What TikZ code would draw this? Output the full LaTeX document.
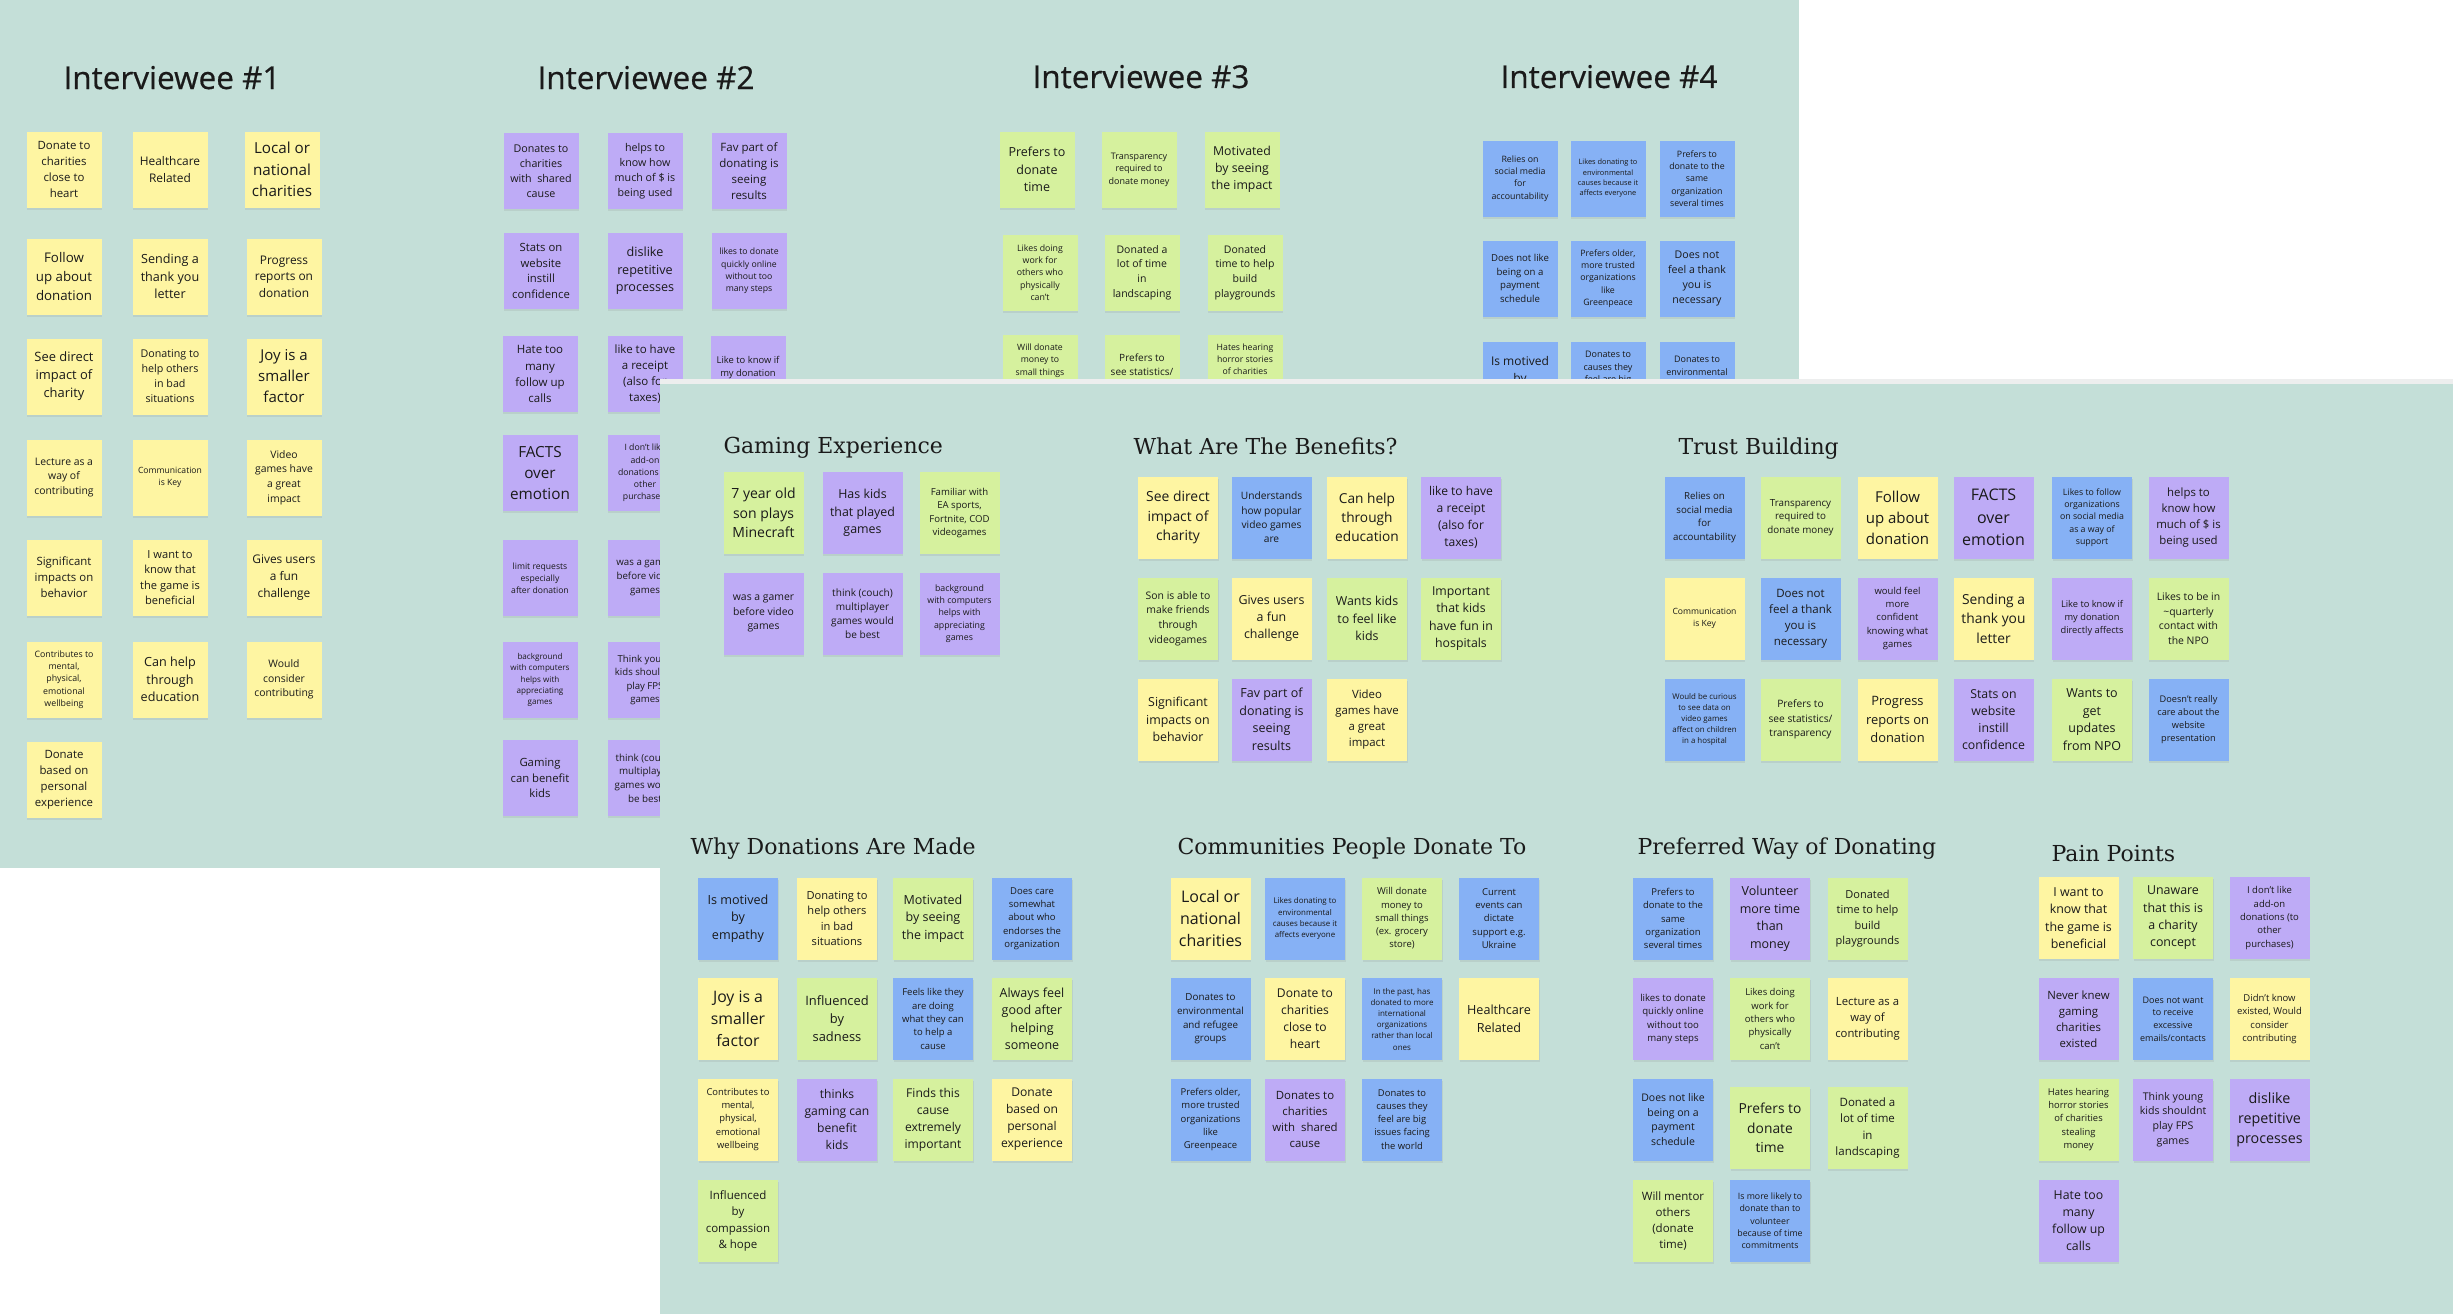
\documentclass[tikz,border=0pt]{standalone}
\usepackage{fontspec}
\setmainfont{Open Sans}
\newfontfamily\headfont[FakeBold=0.5]{Open Sans}
\newfontfamily\slabfont{DejaVu Serif}
\usetikzlibrary{shadows}

\definecolor{board}{HTML}{C4DFD8}
\definecolor{seam}{HTML}{EDEEEE}
\definecolor{ylw}{HTML}{FEF5A2}
\definecolor{grn}{HTML}{D6F19E}
\definecolor{vio}{HTML}{BEABF6}
\definecolor{blu}{HTML}{86B1F5}
\definecolor{ink}{HTML}{1A1A1A}

\newcommand{\fs}[1]{\fontsize{#1}{\fpeval{1.4*#1}}\selectfont}

\tikzset{
    note/.style={inner sep=0pt, align=center, text=ink,
        drop shadow={shadow xshift=0.6pt, shadow yshift=-2.2pt, opacity=0.18, fill=black!45}},
    small note/.style={note, minimum width=75, minimum height=76},
    big note/.style={note, minimum width=80, minimum height=82},
    board title/.style={anchor=base west, text=ink, font=\headfont\fontsize{31.5}{38}\selectfont},
    group title/.style={anchor=base west, text=ink, font=\slabfont\fontsize{22}{26}\selectfont},
}

\begin{document}
\begin{tikzpicture}[x=1pt, y=-1pt]
        \useasboundingbox (0,0) rectangle (2453,1314);
        \fill[white] (0,0) rectangle (2453,1314);
        \fill[board] (0,0) rectangle (1799,868);

        \node[board title] (int1) at (60,89) {Interviewee \#1};
        \node[board title] (int2) at (534,89) {Interviewee \#2};
        \node[board title] (int3) at (1029,88) {Interviewee \#3};
        \node[board title] (int4) at (1497,88) {Interviewee \#4};

        \foreach \x/\y/\c/\s/\t [count=\k] in {
            64/169.5/ylw/11.4/{Donate to\\charities\\close to\\heart},
            170/169.5/ylw/11.9/{Healthcare\\Related},
            282/169.5/ylw/15.2/{Local or\\national\\charities},
            64/276.5/ylw/13.3/{Follow\\up about\\donation},
            170/276.5/ylw/12.6/{Sending a\\thank you\\letter},
            284/276.5/ylw/11.9/{Progress\\reports on\\donation},
            64/376.5/ylw/12.9/{See direct\\impact of\\charity},
            170/376.5/ylw/10.7/{Donating to\\help others\\in bad\\situations},
            284/376.5/ylw/15/{Joy is a\\smaller\\factor},
            64/477.5/ylw/10.4/{Lecture as a\\way of\\contributing},
            170/477.5/ylw/8.6/{Communication\\is Key},
            284/477.5/ylw/10.4/{Video\\games have\\a great\\impact},
            64/577.5/ylw/11.4/{Significant\\impacts on\\behavior},
            170/577.5/ylw/11.1/{I want to\\know that\\the game is\\beneficial},
            284/577.5/ylw/11.9/{Gives users\\a fun\\challenge},
            64/679.5/ylw/8.8/{Contributes to\\mental,\\physical,\\emotional\\wellbeing},
            170/679.5/ylw/12.6/{Can help\\through\\education},
            284/679.5/ylw/10.4/{Would\\consider\\contributing},
            64/779.5/ylw/11.4/{Donate\\based on\\personal\\experience}}
            \node[small note, fill=\c, font=\fs{\s}] (i1-\k) at (\x,\y) {\t};

        \foreach \x/\y/\c/\s/\t [count=\k] in {
            541/171/vio/10.7/{Donates to\\charities\\with\ \ shared\\cause},
            645/171/vio/10.7/{helps to\\know how\\much of \$ is\\being used},
            749/171/vio/11.5/{Fav part of\\donating is\\seeing\\results},
            541/271/vio/11.3/{Stats on\\website\\instill\\confidence},
            645/271/vio/12.6/{dislike\\repetitive\\processes},
            749/271/vio/8.7/{likes to donate\\quickly online\\without too\\many steps},
            540/374/vio/11.5/{Hate too\\many\\follow up\\calls},
            645/374/vio/11.5/{like to have\\a receipt\\(also for\\taxes)},
            748/374/vio/9.4/{Like to know if\\my donation\\directly affects},
            540/473/vio/15.3/{FACTS\\over\\emotion},
            645/473/vio/8.7/{I don't like\\add-on\\donations (to\\other\\purchases)},
            540/578/vio/8.6/{limit requests\\especially\\after donation},
            645/578/vio/9.7/{was a gamer\\before video\\games},
            540/680/vio/8.1/{background\\with computers\\helps with\\appreciating\\games},
            645/680/vio/9.6/{Think young\\kids shouldnt\\play FPS\\games},
            540/778/vio/11.3/{Gaming\\can benefit\\kids},
            645/778/vio/9.8/{think (couch)\\multiplayer\\games would\\be best}}
            \node[small note, fill=\c, font=\fs{\s}] (i2-\k) at (\x,\y) {\t};

        \foreach \x/\y/\c/\s/\t [count=\k] in {
            1037/169.5/grn/12.5/{Prefers to\\donate\\time},
            1139/169.5/grn/9/{Transparency\\required to\\donate money},
            1242/169.5/grn/12.3/{Motivated\\by seeing\\the impact},
            1040/272.5/grn/8.8/{Likes doing\\work for\\others who\\physically\\can't},
            1142/272.5/grn/10.5/{Donated a\\lot of time\\in\\landscaping},
            1245/272.5/grn/10.5/{Donated\\time to help\\build\\playgrounds},
            1040/372.5/grn/8.7/{Will donate\\money to\\small things\\(ex. grocery\\store)},
            1142/372.5/grn/10/{Prefers to\\see statistics/\\transparency},
            1245/372.5/grn/8.7/{Hates hearing\\horror stories\\of charities\\stealing\\money}}
            \node[small note, fill=\c, font=\fs{\s}] (i3-\k) at (\x,\y) {\t};

        \foreach \x/\y/\c/\s/\t [count=\k] in {
            1520/178.5/blu/8.8/{Relies on\\social media\\for\\accountability},
            1608/178.5/blu/7.4/{Likes donating to\\environmental\\causes because it\\affects everyone},
            1697/178.5/blu/8.8/{Prefers to\\donate to the\\same\\organization\\several times},
            1520/278.5/blu/9.6/{Does not like\\being on a\\payment\\schedule},
            1608/278.5/blu/8.8/{Prefers older,\\more trusted\\organizations\\like\\Greenpeace},
            1697/278.5/blu/10.6/{Does not\\feel a thank\\you is\\necessary},
            1520/379.5/blu/12/{Is motived\\by\\empathy},
            1608/379.5/blu/9/{Donates to\\causes they\\feel are big\\issues facing\\the world},
            1697/379.5/blu/9/{Donates to\\environmental\\and refugee\\groups}}
            \node[small note, fill=\c, font=\fs{\s}] (i4-\k) at (\x,\y) {\t};

        \fill[seam] (660,379) rectangle (2453,384);
        \fill[board] (660,384) rectangle (2453,1314);

        \node[group title] (gaming) at (720,453) {Gaming Experience};
        \node[group title] (benefits) at (1130,454) {What Are The Benefits?};
        \node[group title] (trust) at (1675,454) {Trust Building};
        \node[group title] (why) at (687,854) {Why Donations Are Made};
        \node[group title] (communities) at (1174,854) {Communities People Donate To};
        \node[group title] (preferred) at (1634,854) {Preferred Way of Donating};
        \node[group title] (pain) at (2048,861) {Pain Points};

        \foreach \x/\y/\c/\s/\t [count=\k] in {
            763.5/513/grn/14/{7 year old\\son plays\\Minecraft},
            862.5/513/vio/12.4/{Has kids\\that played\\games},
            959.5/513/grn/9.6/{Familiar with\\EA sports,\\Fortnite, COD\\videogames},
            763.5/613.5/vio/10.4/{was a gamer\\before video\\games},
            862.5/613.5/vio/10.1/{think (couch)\\multiplayer\\games would\\be best},
            959.5/613.5/vio/8.8/{background\\with computers\\helps with\\appreciating\\games}}
            \node[big note, fill=\c, font=\fs{\s}] (gam-\k) at (\x,\y) {\t};

        \foreach \x/\y/\c/\s/\t [count=\k] in {
            1178/517.5/ylw/13.9/{See direct\\impact of\\charity},
            1271.5/517.5/blu/10.2/{Understands\\how popular\\video games\\are},
            1367/517.5/ylw/13.7/{Can help\\through\\education},
            1461/517.5/vio/12.1/{like to have\\a receipt\\(also for\\taxes)},
            1178/618.5/grn/10.4/{Son is able to\\make friends\\through\\videogames},
            1271.5/618.5/ylw/12.4/{Gives users\\a fun\\challenge},
            1367/618.5/grn/12.4/{Wants kids\\to feel like\\kids},
            1461/618.5/grn/12.3/{Important\\that kids\\have fun in\\hospitals},
            1178/719.5/ylw/12.4/{Significant\\impacts on\\behavior},
            1271.5/719.5/vio/12.5/{Fav part of\\donating is\\seeing\\results},
            1367/719.5/ylw/11.4/{Video\\games have\\a great\\impact}}
            \node[big note, fill=\c, font=\fs{\s}] (ben-\k) at (\x,\y) {\t};

        \foreach \x/\y/\c/\s/\t [count=\k] in {
            1704.5/517.5/blu/9.7/{Relies on\\social media\\for\\accountability},
            1800.5/517.5/grn/9.8/{Transparency\\required to\\donate money},
            1897.5/517.5/ylw/15/{Follow\\up about\\donation},
            1993.5/517.5/vio/16/{FACTS\\over\\emotion},
            2092/517.5/blu/8.8/{Likes to follow\\organizations\\on social media\\as a way of\\support},
            2188.5/517.5/vio/11.4/{helps to\\know how\\much of \$ is\\being used},
            1704.5/618.5/ylw/8.6/{Communication\\is Key},
            1800.5/618.5/blu/11.5/{Does not\\feel a thank\\you is\\necessary},
            1897.5/618.5/vio/9.5/{would feel\\more\\confident\\knowing what\\games},
            1993.5/618.5/ylw/13.8/{Sending a\\thank you\\letter},
            2092/618.5/vio/9.3/{Like to know if\\my donation\\directly affects},
            2188.5/618.5/grn/10.4/{Likes to be in\\\textasciitilde quarterly\\contact with\\the NPO},
            1704.5/719.5/blu/7.9/{Would be curious\\to see data on\\video games\\affect on children\\in a hospital},
            1800.5/719.5/grn/10.2/{Prefers to\\see statistics/\\transparency},
            1897.5/719.5/ylw/12.9/{Progress\\reports on\\donation},
            1993.5/719.5/vio/12.3/{Stats on\\website\\instill\\confidence},
            2092/719.5/grn/12.5/{Wants to\\get\\updates\\from NPO},
            2188.5/719.5/blu/9.2/{Doesn't really\\care about the\\website\\presentation}}
            \node[big note, fill=\c, font=\fs{\s}] (tru-\k) at (\x,\y) {\t};

        \foreach \x/\y/\c/\s/\t [count=\k] in {
            738/918.5/blu/12.6/{Is motived\\by\\empathy},
            837/918.5/ylw/11.1/{Donating to\\help others\\in bad\\situations},
            933/918.5/grn/12.5/{Motivated\\by seeing\\the impact},
            1032/918.5/blu/9.5/{Does care\\somewhat\\about who\\endorses the\\organization},
            738/1019/ylw/15.8/{Joy is a\\smaller\\factor},
            837/1019/grn/12.9/{Influenced\\by\\sadness},
            933/1019/blu/9.5/{Feels like they\\are doing\\what they can\\to help a\\cause},
            1032/1019/grn/12.5/{Always feel\\good after\\helping\\someone},
            738/1119.5/ylw/9.4/{Contributes to\\mental,\\physical,\\emotional\\wellbeing},
            837/1119.5/vio/12.1/{thinks\\gaming can\\benefit\\kids},
            933/1119.5/grn/12.1/{Finds this\\cause\\extremely\\important},
            1032/1119.5/ylw/12.1/{Donate\\based on\\personal\\experience},
            738/1221/grn/11.5/{Influenced\\by\\compassion\\\& hope}}
            \node[big note, fill=\c, font=\fs{\s}] (why-\k) at (\x,\y) {\t};

        \foreach \x/\y/\c/\s/\t [count=\k] in {
            1210.5/918.5/ylw/16/{Local or\\national\\charities},
            1305/918.5/blu/7.9/{Likes donating to\\environmental\\causes because it\\affects everyone},
            1402/918.5/grn/9.5/{Will donate\\money to\\small things\\(ex. grocery\\store)},
            1499/918.5/blu/9.5/{Current\\events can\\dictate\\support e.g.\\Ukraine},
            1210.5/1019/blu/9.8/{Donates to\\environmental\\and refugee\\groups},
            1305/1019/ylw/12.1/{Donate to\\charities\\close to\\heart},
            1402/1019/blu/8/{In the past, has\\donated to more\\international\\organizations\\rather than local\\ones},
            1499/1019/ylw/12.6/{Healthcare\\Related},
            1210.5/1119.5/blu/9.5/{Prefers older,\\more trusted\\organizations\\like\\Greenpeace},
            1305/1119.5/vio/11.4/{Donates to\\charities\\with\ \ shared\\cause},
            1402/1119.5/blu/9.4/{Donates to\\causes they\\feel are big\\issues facing\\the world}}
            \node[big note, fill=\c, font=\fs{\s}] (com-\k) at (\x,\y) {\t};

        \foreach \x/\y/\c/\s/\t [count=\k] in {
            1673/918.5/blu/9.5/{Prefers to\\donate to the\\same\\organization\\several times},
            1770/918.5/vio/12.5/{Volunteer\\more time\\than\\money},
            1867.5/918.5/grn/11/{Donated\\time to help\\build\\playgrounds},
            1673/1019/vio/9.6/{likes to donate\\quickly online\\without too\\many steps},
            1770/1019/grn/9.5/{Likes doing\\work for\\others who\\physically\\can't},
            1867.5/1019/ylw/11.3/{Lecture as a\\way of\\contributing},
            1673/1119.5/blu/10.5/{Does not like\\being on a\\payment\\schedule},
            1770/1128/grn/13.8/{Prefers to\\donate\\time},
            1867.5/1128/grn/11.5/{Donated a\\lot of time\\in\\landscaping},
            1673/1221/grn/11.5/{Will mentor\\others\\(donate\\time)},
            1770/1221/blu/8.8/{Is more likely to\\donate than to\\volunteer\\because of time\\commitments}}
            \node[big note, fill=\c, font=\fs{\s}] (pref-\k) at (\x,\y) {\t};

        \foreach \x/\y/\c/\s/\t [count=\k] in {
            2078.5/918/ylw/12.4/{I want to\\know that\\the game is\\beneficial},
            2173/918/grn/12.4/{Unaware\\that this is\\a charity\\concept},
            2269.5/918/vio/9.5/{I don't like\\add-on\\donations (to\\other\\purchases)},
            2078.5/1019/vio/11.4/{Never knew\\gaming\\charities\\existed},
            2173/1019/blu/9/{Does not want\\to receive\\excessive\\emails/contacts},
            2269.5/1019/ylw/9.5/{Didn't know\\existed, Would\\consider\\contributing},
            2078.5/1119.5/grn/9.4/{Hates hearing\\horror stories\\of charities\\stealing\\money},
            2173/1119.5/vio/10.6/{Think young\\kids shouldnt\\play FPS\\games},
            2269.5/1119.5/vio/14.3/{dislike\\repetitive\\processes},
            2078.5/1220.5/vio/12.3/{Hate too\\many\\follow up\\calls}}
            \node[big note, fill=\c, font=\fs{\s}] (pain-\k) at (\x,\y) {\t};
\end{tikzpicture}
\end{document}
